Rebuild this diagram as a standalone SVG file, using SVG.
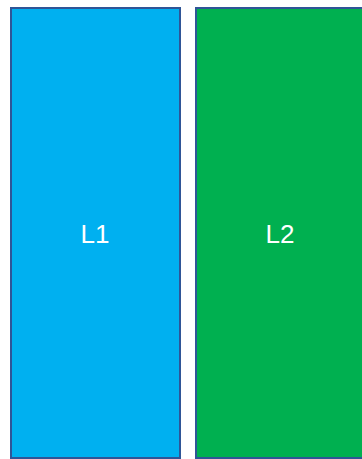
<svg xmlns="http://www.w3.org/2000/svg" width="362" height="459" viewBox="0 0 362 459">
<style>
.box{stroke:#2F5597;stroke-width:2}
.lbl{font-family:"Liberation Sans",Arial,sans-serif;font-size:26px;fill:#ffffff;text-anchor:middle}
</style>
<rect width="362" height="459" fill="#ffffff"/>
<g id="L1">
<rect class="box" x="11" y="8" width="169" height="450" fill="#00B0F0"/>
<text class="lbl" x="95" y="243">L1</text>
</g>
<g id="L2">
<rect class="box" x="196" y="8" width="180" height="450" fill="#00B050"/>
<text class="lbl" x="280" y="243">L2</text>
</g>
<g id="connectors"/>
</svg>
